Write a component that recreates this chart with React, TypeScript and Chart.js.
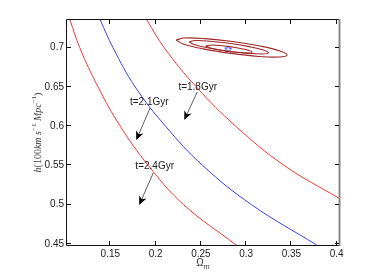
import React, { useEffect, useRef } from "react";
import { Chart, registerables } from "chart.js";
Chart.register(...registerables);

// axis ticks
const xTicks = [0.15, 0.2, 0.25, 0.3, 0.35, 0.4];
const xTickLabels = ["0.15", "0.2", "0.25", "0.3", "0.35", "0.4"];
const yTicks = [0.45, 0.5, 0.55, 0.6, 0.65, 0.7];
const yTickLabels = ["0.45", "0.5", "0.55", "0.6", "0.65", "0.7"];
const xRange = [0.1022, 0.4025];
const yRange = [0.4487, 0.7353];

// age curves
const t24X = [0.1055, 0.1163, 0.1365, 0.161, 0.192, 0.231, 0.2889];
const t24Y = [0.7353, 0.7, 0.65, 0.6, 0.55, 0.5, 0.4487];
const t21X = [0.1389, 0.153, 0.1775, 0.211, 0.252, 0.306, 0.3779];
const t21Y = [0.7353, 0.7, 0.65, 0.6, 0.55, 0.5, 0.4487];
const t18X = [0.1904, 0.2095, 0.245, 0.2885, 0.342, 0.4025];
const t18Y = [0.7353, 0.7, 0.65, 0.6, 0.55, 0.5082];

// confidence contours, starting at the left tip
const c3X = [0.2227, 0.2305, 0.2526, 0.2831, 0.3137, 0.3366, 0.3452, 0.3375, 0.3153, 0.2848, 0.2542, 0.2314, 0.2227];
const c3Y = [0.7098, 0.7047, 0.6985, 0.6928, 0.6889, 0.6882, 0.6907, 0.6958, 0.7021, 0.7079, 0.7116, 0.7124, 0.7098];
const c2X = [0.2372, 0.2427, 0.2585, 0.2803, 0.3022, 0.3184, 0.3245, 0.319, 0.3033, 0.2814, 0.2596, 0.2434, 0.2372];
const c2Y = [0.7074, 0.704, 0.6996, 0.6954, 0.6928, 0.692, 0.6936, 0.6971, 0.7014, 0.7056, 0.7083, 0.7091, 0.7074];
const c1X = [0.2552, 0.2625, 0.2805, 0.2989, 0.3066, 0.2993, 0.2812, 0.2629, 0.2552];
const c1Y = [0.7023, 0.699, 0.6952, 0.6933, 0.6943, 0.6977, 0.7015, 0.7035, 0.7023];

// best fit
const bestX = [0.2801];
const bestY = [0.6984];

// annotations
const annText = ["t=1.8Gyr", "t=2.1Gyr", "t=2.4Gyr"];
const annTextX = [0.2465, 0.193, 0.199];
const annTextY = [0.6499, 0.6308, 0.5493];
const arrowFromX = [0.246, 0.194, 0.1974];
const arrowFromY = [0.6436, 0.6232, 0.5404];
const arrowToX = [0.2316, 0.1786, 0.1819];
const arrowToY = [0.6079, 0.5824, 0.4996];

const zip = (xs: number[], ys: number[]) => xs.map((x, i) => ({ x, y: ys[i] }));

const RED = "rgb(255,50,50)";
const BLUE = "rgb(60,60,255)";
const BROWN = "rgb(160,40,40)";

function makeStar(): HTMLCanvasElement {
  const c = document.createElement("canvas");
  c.width = 9;
  c.height = 9;
  const g = c.getContext("2d")!;
  g.strokeStyle = "rgb(60,60,255)";
  g.lineWidth = 1;
  g.beginPath();
  for (let i = 0; i < 10; i++) {
    const r = i % 2 === 0 ? 3.8 : 1.6;
    const a = -Math.PI / 2 + (i * Math.PI) / 5;
    const px = 4.5 + r * Math.cos(a);
    const py = 4.8 + r * Math.sin(a);
    if (i === 0) g.moveTo(px, py);
    else g.lineTo(px, py);
  }
  g.closePath();
  g.stroke();
  return c;
}

const framePlugin = {
  id: "framePlugin",
  afterDraw(chart: any) {
    const { ctx, chartArea: a, scales } = chart;
    const x = scales.x;
    const y = scales.y;
    ctx.save();
    // box
    ctx.strokeStyle = "#111";
    ctx.lineWidth = 1;
    ctx.beginPath();
    ctx.moveTo(a.left - 0.5, a.top - 0.5);
    ctx.lineTo(a.right, a.top - 0.5);
    ctx.moveTo(a.left - 0.5, a.top - 0.5);
    ctx.lineTo(a.left - 0.5, a.bottom + 0.5);
    ctx.lineTo(a.right, a.bottom + 0.5);
    ctx.stroke();
    ctx.strokeStyle = "#888";
    ctx.lineWidth = 2;
    ctx.beginPath();
    ctx.moveTo(a.right + 0.5, a.top - 1);
    ctx.lineTo(a.right + 0.5, a.bottom + 1);
    ctx.stroke();
    // inward ticks on all four sides
    ctx.strokeStyle = "#111";
    ctx.lineWidth = 1;
    ctx.beginPath();
    const tl = 4;
    xTicks.forEach((v) => {
      const px = Math.round(x.getPixelForValue(v)) - 0.5;
      ctx.moveTo(px, a.bottom);
      ctx.lineTo(px, a.bottom - tl);
      ctx.moveTo(px, a.top);
      ctx.lineTo(px, a.top + tl);
    });
    yTicks.forEach((v) => {
      const py = Math.round(y.getPixelForValue(v)) - 0.5;
      ctx.moveTo(a.left, py);
      ctx.lineTo(a.left + tl, py);
      ctx.moveTo(a.right, py);
      ctx.lineTo(a.right - tl, py);
    });
    ctx.stroke();

    // annotations
    ctx.fillStyle = "#222";
    ctx.font = '10px "Liberation Sans", Arial, sans-serif';
    ctx.textAlign = "center";
    ctx.textBaseline = "middle";
    annText.forEach((t, i) => {
      ctx.fillText(t, x.getPixelForValue(annTextX[i]), y.getPixelForValue(annTextY[i]));
      const x0 = x.getPixelForValue(arrowFromX[i]);
      const y0 = y.getPixelForValue(arrowFromY[i]);
      const x1 = x.getPixelForValue(arrowToX[i]);
      const y1 = y.getPixelForValue(arrowToY[i]);
      const ang = Math.atan2(y1 - y0, x1 - x0);
      const L = 9;
      const W = 4;
      ctx.strokeStyle = "#333";
      ctx.lineWidth = 0.8;
      ctx.beginPath();
      ctx.moveTo(x0, y0);
      ctx.lineTo(x1 - Math.cos(ang) * 5, y1 - Math.sin(ang) * 5);
      ctx.stroke();
      ctx.fillStyle = "#000";
      ctx.beginPath();
      const bx = x1 - Math.cos(ang) * L;
      const by = y1 - Math.sin(ang) * L;
      const nx = -Math.sin(ang);
      const ny = Math.cos(ang);
      ctx.moveTo(x1, y1);
      ctx.lineTo(bx + nx * W, by + ny * W);
      ctx.lineTo(x1 - Math.cos(ang) * L * 0.7, y1 - Math.sin(ang) * L * 0.7);
      ctx.lineTo(bx - nx * W, by - ny * W);
      ctx.closePath();
      ctx.fill();
      ctx.fillStyle = "#222";
    });

    // y title (rotated, rich text)
    const segs = [
      { t: "h", f: 'italic 10px "Liberation Serif", serif', dy: 0 },
      { t: "(100", f: '10px "Liberation Serif", serif', dy: 0 },
      { t: "km s", f: 'italic 10px "Liberation Serif", serif', dy: 0 },
      { t: "\u22121", f: '7px "Liberation Serif", serif', dy: -4 },
      { t: " Mpc", f: 'italic 10px "Liberation Serif", serif', dy: 0 },
      { t: "\u22121", f: '7px "Liberation Serif", serif', dy: -4 },
      { t: ")", f: '10px "Liberation Serif", serif', dy: 0 },
    ];
    let total = 0;
    segs.forEach((s) => {
      ctx.font = s.f;
      total += ctx.measureText(s.t).width;
    });
    ctx.save();
    ctx.translate(38, (a.top + a.bottom) / 2);
    ctx.rotate(-Math.PI / 2);
    ctx.fillStyle = "#444";
    ctx.textAlign = "left";
    ctx.textBaseline = "middle";
    let cx = -total / 2;
    segs.forEach((s) => {
      ctx.font = s.f;
      ctx.fillText(s.t, cx, s.dy);
      cx += ctx.measureText(s.t).width;
    });
    ctx.restore();

    // x title Omega_m
    ctx.fillStyle = "#333";
    ctx.textBaseline = "alphabetic";
    ctx.textAlign = "left";
    ctx.font = '10px "Liberation Sans", Arial, sans-serif';
    const wO = ctx.measureText("\u03A9").width;
    ctx.font = '7px "Liberation Sans", Arial, sans-serif';
    const wm = ctx.measureText("m").width;
    const sx = (a.left + a.right) / 2 - (wO + wm) / 2;
    ctx.font = '10px "Liberation Sans", Arial, sans-serif';
    ctx.fillText("\u03A9", sx, 266);
    ctx.font = '7px "Liberation Sans", Arial, sans-serif';
    ctx.fillText("m", sx + wO, 269);
    ctx.restore();
  },
};

export default function App() {
  const ref = useRef<HTMLCanvasElement | null>(null);
  useEffect(() => {
    if (!ref.current) return;
    const star = makeStar();
    const lineDs = (label: string, xs: number[], ys: number[], color: string) => ({
      label,
      data: zip(xs, ys),
      showLine: true,
      borderColor: color,
      borderWidth: 1,
      pointRadius: 0,
      tension: 0.4,
    });
    const loopDs = (label: string, xs: number[], ys: number[]) => ({
      label,
      data: zip(xs, ys),
      showLine: true,
      borderColor: BROWN,
      borderWidth: 1.1,
      pointRadius: 0,
      tension: 0.4,
    });
    const chart = new Chart(ref.current, {
      type: "scatter",
      data: {
        datasets: [
          lineDs("t=2.4Gyr", t24X, t24Y, RED),
          lineDs("t=2.1Gyr", t21X, t21Y, BLUE),
          lineDs("t=1.8Gyr", t18X, t18Y, RED),
          loopDs("3σ", c3X, c3Y),
          loopDs("2σ", c2X, c2Y),
          loopDs("1σ", c1X, c1Y),
          {
            label: "best fit",
            data: zip(bestX, bestY),
            showLine: false,
            pointStyle: star as any,
            pointRadius: 4,
          },
        ] as any,
      },
      options: {
        responsive: false,
        animation: false,
        devicePixelRatio: 1,
        layout: { padding: { left: 0, top: 20, right: 35, bottom: 0 } },
        plugins: { legend: { display: false }, tooltip: { enabled: false } },
        scales: {
          x: {
            type: "linear",
            min: xRange[0],
            max: xRange[1],
            grid: { display: false, drawTicks: false },
            border: { display: false },
            afterBuildTicks: (s: any) => {
              s.ticks = xTicks.map((v) => ({ value: v }));
            },
            afterFit: (s: any) => {
              s.height = 31;
            },
            ticks: {
              padding: 3,
              maxRotation: 0,
              autoSkip: false,
              color: "#222",
              font: { family: '"Liberation Sans", Arial, sans-serif', size: 10 },
              callback: (v: any) => xTickLabels[xTicks.indexOf(Math.round(Number(v) * 100) / 100)] ?? "",
            },
          },
          y: {
            type: "linear",
            min: yRange[0],
            max: yRange[1],
            grid: { display: false, drawTicks: false },
            border: { display: false },
            afterBuildTicks: (s: any) => {
              s.ticks = yTicks.map((v) => ({ value: v }));
            },
            afterFit: (s: any) => {
              s.width = 67;
            },
            ticks: {
              padding: 3,
              autoSkip: false,
              color: "#222",
              font: { family: '"Liberation Sans", Arial, sans-serif', size: 10 },
              callback: (v: any) => yTickLabels[yTicks.indexOf(Math.round(Number(v) * 100) / 100)] ?? "",
            },
          },
        },
      },
      plugins: [framePlugin],
    });
    return () => chart.destroy();
  }, []);
  return (
    <div style={{ position: "absolute", left: 0, top: 0, width: 374, height: 276, background: "#fff" }}>
      <canvas ref={ref} width={374} height={276} style={{ display: "block" }} />
    </div>
  );
}
